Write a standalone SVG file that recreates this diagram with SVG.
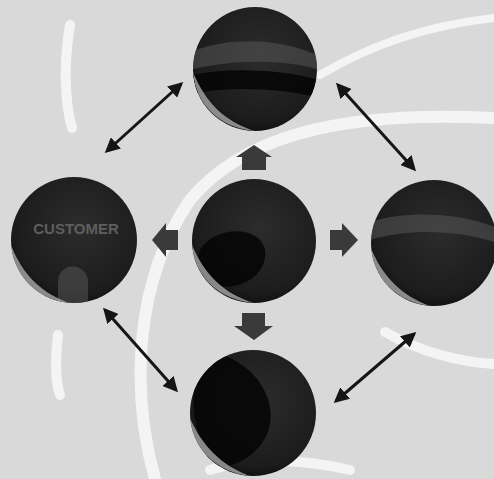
<svg xmlns="http://www.w3.org/2000/svg" width="494" height="479" viewBox="0 0 494 479">
<style>
.wm{fill:none;stroke:#f4f4f4;stroke-linecap:round}
.con{stroke:#151515;stroke-width:3;fill:none;marker-start:url(#ah);marker-end:url(#ah)}
.ball{fill:url(#g)}
.rim{fill:#bdbdbd;opacity:0.7}
.blk{fill:#050505;opacity:0.85}
.band{fill:#555555;opacity:0.55}
.bar{fill:#3a3a3a}
.lbl{font-family:"Liberation Sans",Arial,sans-serif;font-size:15px;font-weight:bold;fill:#5e5e5e;text-anchor:middle}
</style>
<defs>
<radialGradient id="g" cx="0.55" cy="0.4" r="0.65">
<stop offset="0" stop-color="#2c2c2c"/>
<stop offset="0.8" stop-color="#1c1c1c"/>
<stop offset="1" stop-color="#0a0a0a"/>
</radialGradient>
<marker id="ah" viewBox="0 0 10 10" refX="8" refY="5" markerWidth="5" markerHeight="5" orient="auto-start-reverse">
<path d="M0,0 L10,5 L0,10 Z" fill="#151515"/>
</marker>
<clipPath id="cT"><circle cx="255" cy="69" r="62"/></clipPath>
<clipPath id="cC"><circle cx="254" cy="241" r="62"/></clipPath>
<clipPath id="cL"><circle cx="74" cy="240" r="63"/></clipPath>
<clipPath id="cR"><circle cx="434" cy="243" r="63"/></clipPath>
<clipPath id="cB"><circle cx="253" cy="413" r="63"/></clipPath>
</defs>
<rect width="494" height="479" fill="#d9d9d9"/>
<g id="watermark">
<path class="wm" stroke-width="12" d="M155,479 C130,390 135,280 190,200 C240,140 330,110 494,118"/>
<path class="wm" stroke-width="10" d="M70,25 C64,60 64,100 72,128"/>
<path class="wm" stroke-width="8" d="M320,75 C370,45 430,25 494,18"/>
<path class="wm" stroke-width="10" d="M385,332 C420,352 460,362 494,364"/>
<path class="wm" stroke-width="10" d="M58,335 C55,360 55,380 60,395"/>
<path class="wm" stroke-width="10" d="M210,470 C245,458 300,458 350,470"/>
</g>
<g id="connectors">
<line class="con" x1="107" y1="151" x2="181" y2="84"/>
<line class="con" x1="338" y1="85" x2="414" y2="169"/>
<line class="con" x1="105" y1="310" x2="176" y2="390"/>
<line class="con" x1="336" y1="401" x2="414" y2="334"/>
<path class="bar" d="M242,170 L242,157 L236,157 L254,145 L272,157 L266,157 L266,170 Z"/>
<path class="bar" d="M178,230 L166,230 L166,223 L152,240 L166,257 L166,250 L178,250 Z"/>
<path class="bar" d="M330,230 L342,230 L342,223 L358,240 L342,257 L342,250 L330,250 Z"/>
<path class="bar" d="M242,313 L242,326 L234,326 L254,340 L273,326 L265,326 L265,313 Z"/>
</g>
<g id="n-top">
<circle class="ball" cx="255" cy="69" r="62"/>
<g clip-path="url(#cT)">
<path class="band" d="M190,52 C230,36 280,38 320,56 L320,70 C280,58 230,60 190,70 Z"/>
<path class="blk" d="M190,75 C230,67 280,69 320,80 L320,98 C280,88 230,86 190,94 Z"/>
<path class="rim" d="M193,72 C196,105 220,128 255,131 C225,122 205,102 193,72 Z"/>
</g>
</g>
<g id="n-center">
<circle class="ball" cx="254" cy="241" r="62"/>
<g clip-path="url(#cC)">
<path class="blk" d="M200,250 C215,225 260,225 265,250 C268,275 240,292 215,285 C200,280 195,262 200,250 Z"/>
<path class="rim" d="M192,245 C195,278 220,300 254,303 C224,294 204,274 192,245 Z"/>
</g>
</g>
<g id="n-left">
<circle class="ball" cx="74" cy="240" r="63"/>
<g clip-path="url(#cL)">
<path class="band" d="M58,305 L58,280 C60,262 85,262 88,280 L88,305 Z"/>
<path class="rim" d="M11,245 C14,278 38,300 70,303 C42,294 22,274 11,245 Z"/>
</g>
<text class="lbl" x="76" y="234">CUSTOMER</text>
</g>
<g id="n-right">
<circle class="ball" cx="434" cy="243" r="63"/>
<g clip-path="url(#cR)">
<path class="band" d="M370,222 C410,210 460,213 497,228 L497,243 C460,230 410,228 370,240 Z"/>
<path class="rim" d="M371,248 C374,280 398,302 430,306 C402,296 382,276 371,248 Z"/>
</g>
</g>
<g id="n-bottom">
<circle class="ball" cx="253" cy="413" r="63"/>
<g clip-path="url(#cB)">
<path class="blk" d="M225,356 C262,370 282,410 264,440 C252,460 228,470 212,465 C195,440 188,395 198,375 C206,362 215,357 225,356 Z"/>
<path class="rim" d="M190,418 C193,450 217,472 250,476 C222,466 202,446 190,418 Z"/>
</g>
</g>
</svg>
